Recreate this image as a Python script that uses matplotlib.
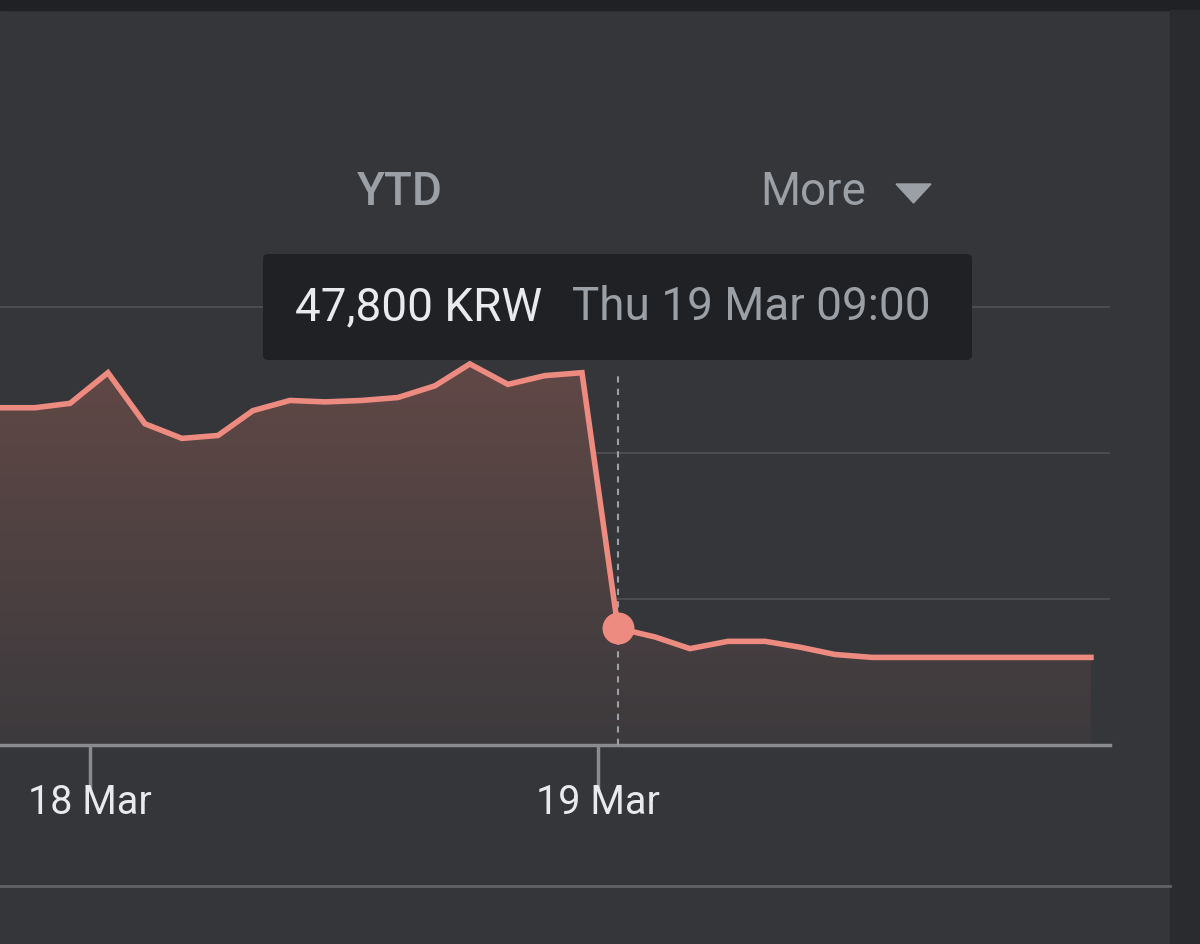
import matplotlib
matplotlib.use("Agg")
import matplotlib.pyplot as plt
import numpy as np
from matplotlib.patches import Polygon, FancyBboxPatch
from matplotlib.colors import LinearSegmentedColormap

hours = [-4.25, -2.6, -0.94, 0.85, 2.6, 4.35, 6.05, 7.7, 9.45, 11.1, 12.85, 14.55, 16.3, 17.95, 19.75, 21.5, 23.25,
         24.95, 26.7, 28.35, 30.15, 31.9, 33.55, 35.2, 36.95, 38.7, 40.5, 42.2, 43.9, 45.6, 47.3]
prices = [49310, 49310, 49340, 49550, 49200, 49100, 49120, 49290, 49360, 49350, 49360, 49380, 49460, 49610, 49470, 49530, 49550,
          47800, 47740, 47660, 47710, 47710, 47670, 47620, 47600, 47600, 47600, 47600, 47600, 47600, 47600]
tick_hours = [0, 24]
tick_labels = ["18 Mar", "19 Mar"]
grid_vals = [48000, 49000, 50000]
sel = 17

BG = "#35363a"
fig = plt.figure(figsize=(12, 9.44), dpi=100, facecolor=BG)
W, H = 1200, 944
def fx(x): return x / W
def fy(y): return 1 - y / H

ax = fig.add_axes([0, fy(745), fx(1110), (745 - 300) / H])
ax.set_facecolor("none")
for g in grid_vals:
    ax.axhline(g, color="#4a4c50", lw=1.5, zorder=1)
ax.axhline(47000, color="#8a8b8e", lw=2.5, clip_on=False, zorder=3)
for s in ax.spines.values():
    s.set_visible(False)
ax.set_xticks(tick_hours)
ax.set_xticklabels(tick_labels, color="#e8eaed", fontsize=28.5, fontfamily="Roboto")
ax.tick_params(axis="x", length=33, width=2.5, color="#8a8b8e", pad=-6)
ax.set_yticks([])

xs = np.array(hours); ys = np.array(prices)
grad = np.linspace(0, 1, 256).reshape(-1, 1)
cmap = LinearSegmentedColormap.from_list("g", ["#3c3a3d", "#614846"])
im = ax.imshow(grad, aspect="auto", cmap=cmap, origin="lower",
               extent=[xs[0], xs[-1], 47000, ys.max()], zorder=2)
poly = Polygon(np.column_stack([np.r_[xs, xs[-1], xs[0]], np.r_[ys, 47000, 47000]]),
               closed=True, transform=ax.transData, facecolor="none", edgecolor="none")
ax.add_patch(poly)
im.set_clip_path(poly)
ax.set_xlim(-4.25, 48.2)
ax.set_ylim(47000, 47000 + 445 / 146 * 1000)

ax.plot([hours[sel]] * 2, [47000, ys.max() - 60], ls=(0, (3, 3)), color="#9aa0a6", lw=1.5, zorder=4)
ax.plot(xs, ys, color="#ee8b80", lw=4, zorder=5, solid_joinstyle="miter")
ax.plot(hours[sel], prices[sel], "o", ms=22, color="#ee8b80", zorder=6)

fig.patches.append(plt.Rectangle((0, fy(10)), 1, 10 / H, transform=fig.transFigure, color="#202124"))
fig.patches.append(plt.Rectangle((fx(1170), 0), 30 / W, fy(10), transform=fig.transFigure, color="#2a2b2e"))
fig.lines.append(plt.Line2D([0, fx(1170)], [fy(886)] * 2, transform=fig.transFigure, color="#5f6368", lw=2))

fig.text(fx(400), fy(192), "YTD", color="#9aa0a6", fontsize=33, fontweight="medium", ha="center", va="center", fontfamily="Roboto")
fig.text(fx(813), fy(192), "More", color="#9aa0a6", fontsize=33, ha="center", va="center", fontfamily="Roboto")
fig.patches.append(Polygon([[fx(896), fy(184)], [fx(931), fy(184)], [fx(913.5), fy(203)]], closed=True,
                           transform=fig.transFigure, color="#9aa0a6"))

fig.patches.append(FancyBboxPatch((fx(263), fy(360)), (972 - 263) / W, (360 - 254) / H,
                                  boxstyle="round,pad=0,rounding_size=0.005", transform=fig.transFigure,
                                  facecolor="#202124", edgecolor="none", zorder=10))
fig.text(fx(295), fy(307), f"{prices[sel]:,} KRW", color="#e8eaed", fontsize=33, va="center", fontfamily="Roboto", zorder=11)
fig.text(fx(572), fy(307), "Thu 19 Mar 09:00", color="#9aa0a6", fontsize=33, va="center", fontfamily="Roboto", zorder=11)

fig.savefig("out.png", dpi=100, facecolor=BG)
